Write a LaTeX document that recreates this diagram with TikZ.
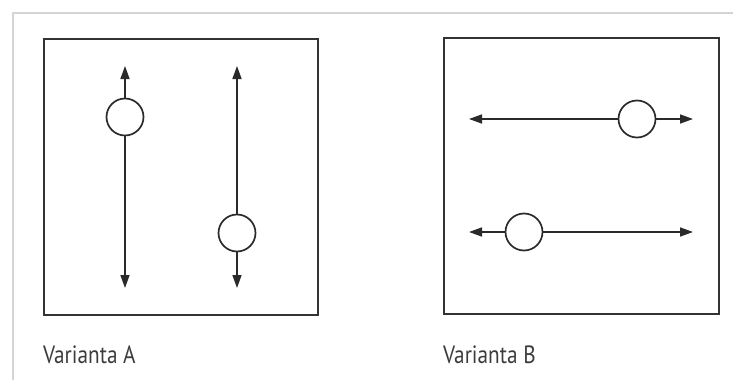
\documentclass[tikz,border=0pt]{standalone}
\usepackage{fontspec}
\setmainfont{PT Sans}
\usetikzlibrary{arrows.meta}
\definecolor{boxc}{HTML}{333333}
\definecolor{linec}{HTML}{2A2A2A}
\definecolor{textc}{HTML}{3C3C3C}
\definecolor{framec}{HTML}{D4D4D4}
\tikzset{
  panel/.style={draw=boxc, line width=2pt},
  knob/.style={circle, draw=linec, fill=white, line width=1.7pt, minimum size=37pt, inner sep=0pt},
  arr/.style={draw=linec, line width=1.6pt, -{Triangle[length=13pt,width=9pt]}},
  caption/.style={anchor=base west, inner sep=0pt, text=textc, font=\fontsize{25}{28}\selectfont},
  frame/.style={draw=framec, line width=2pt}
}
\begin{document}
\begin{tikzpicture}[x=1pt,y=-1pt]
\useasboundingbox (0,0) rectangle (733,380);
\fill[white] (0,0) rectangle (733,380);
% faint page frame
\draw[frame] (13,380) -- (13,13) -- (733,13);
% panels
\node[panel, minimum width=274pt, minimum height=276pt, inner sep=0pt, anchor=north west] (pA) at (43,38) {};
\node[panel, minimum width=275pt, minimum height=276pt, inner sep=0pt, anchor=north west] (pB) at (443,37) {};
% Variant A
\node[knob] (a1) at (125,117) {};
\coordinate (a1t) at (125,66);
\coordinate (a1b) at (125,288);
\draw[arr] (a1) -- (a1t);
\draw[arr] (a1) -- (a1b);
\node[knob] (a2) at (237,233) {};
\coordinate (a2t) at (237,66);
\coordinate (a2b) at (237,288);
\draw[arr] (a2) -- (a2t);
\draw[arr] (a2) -- (a2b);
% Variant B
\node[knob] (b1) at (637,119) {};
\coordinate (b1l) at (469,119);
\coordinate (b1r) at (693,119);
\draw[arr] (b1) -- (b1l);
\draw[arr] (b1) -- (b1r);
\node[knob] (b2) at (524,232) {};
\coordinate (b2l) at (469,232);
\coordinate (b2r) at (693,232);
\draw[arr] (b2) -- (b2l);
\draw[arr] (b2) -- (b2r);
% captions
\node[caption] (capA) at (43,363) {\scalebox{0.85}[1]{Varianta A}};
\node[caption] (capB) at (443,363) {\scalebox{0.85}[1]{Varianta B}};
\end{tikzpicture}
\end{document}
